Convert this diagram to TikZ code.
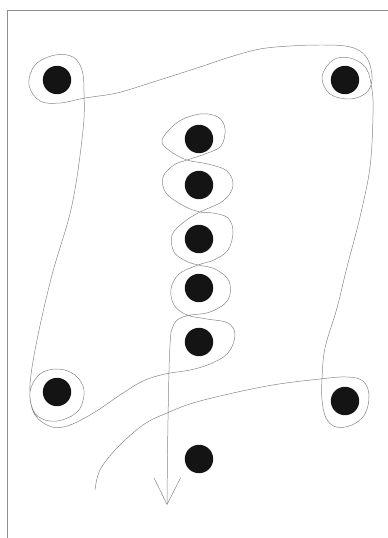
\documentclass[tikz,border=0pt]{standalone}
\usepackage{tikz}
\usepackage{xcolor}
\usetikzlibrary{arrows.meta}
\definecolor{DotBlack}{HTML}{141414}
\definecolor{LineGray}{HTML}{858585}
\definecolor{FrameGray}{HTML}{8E8E8E}

\begin{document}
\begin{tikzpicture}[x=0.05cm,y=-0.05cm,
    dot/.style={circle,fill=DotBlack,inner sep=0pt,minimum size=1.42cm},
    strand/.style={LineGray,line width=0.7pt,line join=round}]
  \useasboundingbox (0,0) rectangle (388,538);
  \draw[FrameGray,line width=1pt] (7,538) -- (7,10) -- (388,10);
  % punctures
  \node[dot] (tl) at (57,80) {};
  \node[dot] (tr) at (345,80) {};
  \node[dot] (bl) at (57,392) {};
  \node[dot] (br) at (345,401) {};
  \node[dot] (m1) at (199,139) {};
  \node[dot] (m2) at (199,185) {};
  \node[dot] (m3) at (199,239) {};
  \node[dot] (m4) at (199,288) {};
  \node[dot] (m5) at (199,342) {};
  \node[dot] (bot) at (199,459) {};
  % the curve
  \draw[strand,-{Straight Barb[length=38pt,width=38pt]}] plot[smooth,tension=0.6] coordinates {
    (95,490)(100,470)(117,448)(143,425)(167,413)(200,401)(267,386)(320,379)
    (347,377)(363,381)(369,395)(365,414)(352,425)(336,427)(326,418)(322,400)
    (322,379)(325,348)(337,308)(347,267)(360,217)(370,167)(373,115)(372,90)
    (366,68)(350,58)(333,60)(322,77)(330,94)(350,99)(366,93)(372,80)
    (369,62)(360,51)(345,46)(320,45)(290,46)(260,49)(230,57)(200,67)
    (150,83)(117,93)(85,98)(60,103)(40,101)(29,85)(35,65)(55,55)(73,57)
    (82,70)(84,92)(83,130)(72,205)(52,275)(37,340)
    (30,385)(33,410)(45,420)(62,420)(79,410)(84,390)(75,375)(58,369)(40,374)
    (30,392)(35,415)(52,427)(70,425)(95,412)(120,395)(143,381)(165,374)
    (190,370)(210,364)(228,353)(235,335)(228,323)(207,319)(187,315)(174,305)
    (171,289)(179,274)(198,265)(214,260)(228,250)(233,232)(228,218)(213,213)
    (200,212)(184,206)(166,193)(163,177)(174,165)(187,160)(205,154)(221,146)
    (225,129)(218,117)(200,114)(178,122)(162,140)(170,151)(187,160)(208,164)
    (227,171)(233,186)(223,201)(200,212)(184,222)(172,235)(174,252)(186,261)
    (198,265)(215,269)(229,281)(228,300)(210,312)(186,316)(174,324)(170,345)
    (168,420)(167,505)};
\end{tikzpicture}
\end{document}
